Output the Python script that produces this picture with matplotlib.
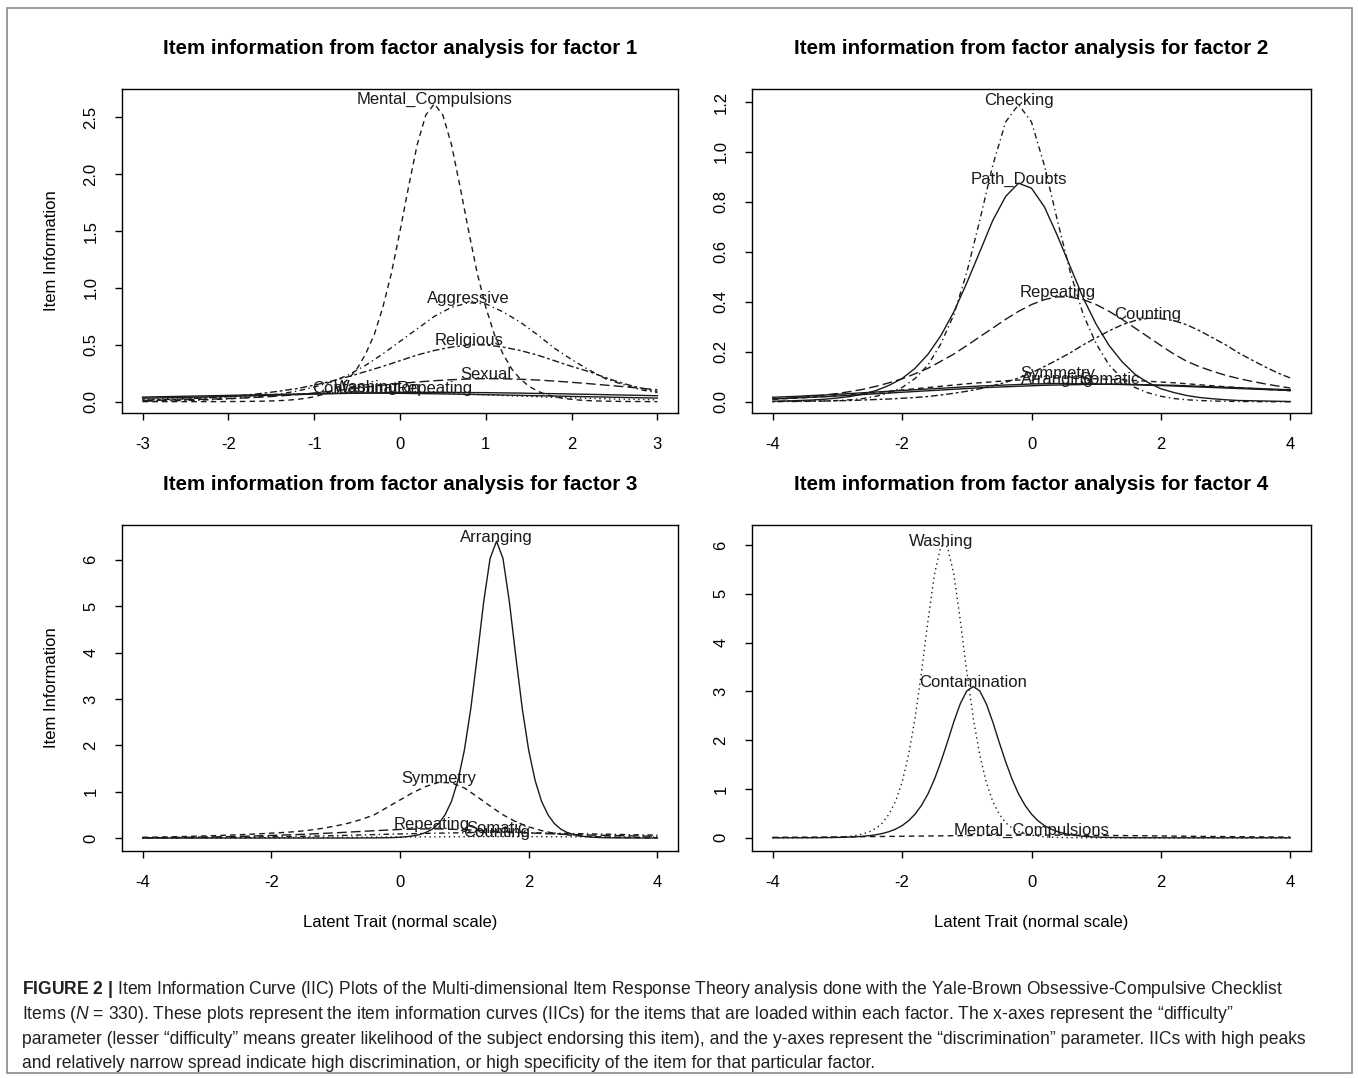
import numpy as np
import matplotlib
matplotlib.use('Agg')
import matplotlib.pyplot as plt
from matplotlib.patches import Rectangle

# latent trait grids the curves were read on
theta_f1 = np.linspace(-3, 3, 31)
theta_f1_fine = np.linspace(-3, 3, 61)
theta_f2 = np.linspace(-4, 4, 41)
theta_fine = np.linspace(-4, 4, 81)
theta_coarse = np.linspace(-4, 4, 17)

# ---- factor 1 ----
mental_compulsions_f1 = [
    0.000, 0.000, 0.000, 0.000, 0.000, 0.000, 0.000, 0.000, 0.000, 0.000,
    0.001, 0.001, 0.002, 0.003, 0.004, 0.006, 0.009, 0.013, 0.020, 0.029,
    0.043, 0.063, 0.093, 0.137, 0.200, 0.290, 0.420, 0.590, 0.830, 1.130,
    1.500, 1.890, 2.260, 2.520, 2.620, 2.520, 2.260, 1.890, 1.500, 1.130,
    0.830, 0.590, 0.420, 0.290, 0.200, 0.137, 0.093, 0.063, 0.043, 0.029,
    0.020, 0.013, 0.009, 0.006, 0.004, 0.003, 0.002, 0.001, 0.001, 0.000,
    0.000]
aggressive_f1 = [
    0.004, 0.006, 0.009, 0.012, 0.017, 0.024, 0.035, 0.049, 0.067, 0.093,
    0.128, 0.174, 0.235, 0.320, 0.420, 0.530, 0.640, 0.750, 0.830, 0.870,
    0.860, 0.790, 0.700, 0.590, 0.470, 0.370, 0.280, 0.200, 0.150, 0.105,
    0.080]
religious_f1 = [
    0.013, 0.017, 0.021, 0.028, 0.035, 0.045, 0.057, 0.073, 0.093, 0.115,
    0.145, 0.180, 0.220, 0.265, 0.310, 0.360, 0.410, 0.450, 0.480, 0.500,
    0.499, 0.480, 0.450, 0.410, 0.360, 0.310, 0.265, 0.210, 0.160, 0.120,
    0.090]
sexual_f1 = [
    0.010, 0.012, 0.015, 0.018, 0.022, 0.027, 0.033, 0.040, 0.050, 0.062,
    0.076, 0.092, 0.110, 0.128, 0.145, 0.160, 0.173, 0.184, 0.193, 0.199,
    0.202, 0.201, 0.197, 0.190, 0.181, 0.170, 0.158, 0.145, 0.132, 0.118,
    0.105]
repeating_f1 = [
    0.030, 0.033, 0.036, 0.039, 0.042, 0.046, 0.050, 0.054, 0.058, 0.062,
    0.066, 0.070, 0.073, 0.076, 0.078, 0.080, 0.081, 0.082, 0.081, 0.080,
    0.079, 0.077, 0.075, 0.072, 0.070, 0.067, 0.064, 0.061, 0.058, 0.055,
    0.052]
contamination_f1 = [
    0.040, 0.043, 0.046, 0.049, 0.052, 0.055, 0.058, 0.061, 0.064, 0.067,
    0.070, 0.072, 0.074, 0.075, 0.074, 0.073, 0.071, 0.069, 0.067, 0.064,
    0.061, 0.058, 0.055, 0.052, 0.049, 0.046, 0.043, 0.040, 0.037, 0.034,
    0.031]
washing_f1 = [
    0.020, 0.024, 0.028, 0.032, 0.037, 0.042, 0.048, 0.054, 0.060, 0.066,
    0.072, 0.078, 0.083, 0.086, 0.085, 0.083, 0.080, 0.076, 0.071, 0.066,
    0.060, 0.054, 0.048, 0.043, 0.038, 0.033, 0.029, 0.025, 0.022, 0.019,
    0.016]

# ---- factor 2 ----
checking_f2 = [
    0.000, 0.001, 0.001, 0.002, 0.003, 0.005, 0.008, 0.013, 0.022, 0.036,
    0.057, 0.093, 0.147, 0.232, 0.349, 0.518, 0.726, 0.945, 1.120, 1.190,
    1.120, 0.945, 0.726, 0.518, 0.349, 0.232, 0.147, 0.093, 0.057, 0.036,
    0.022, 0.013, 0.008, 0.005, 0.003, 0.002, 0.001, 0.001, 0.000, 0.000,
    0.000]
path_doubts_f2 = [
    0.002, 0.003, 0.005, 0.007, 0.010, 0.015, 0.021, 0.031, 0.045, 0.066,
    0.093, 0.134, 0.190, 0.265, 0.360, 0.476, 0.600, 0.725, 0.822, 0.875,
    0.855, 0.780, 0.665, 0.540, 0.415, 0.310, 0.225, 0.160, 0.110, 0.077,
    0.052, 0.037, 0.025, 0.017, 0.012, 0.008, 0.005, 0.004, 0.003, 0.002,
    0.001]
repeating_f2 = [
    0.011, 0.014, 0.017, 0.021, 0.027, 0.033, 0.041, 0.050, 0.062, 0.076,
    0.092, 0.112, 0.134, 0.162, 0.191, 0.225, 0.260, 0.295, 0.330, 0.362,
    0.389, 0.409, 0.420, 0.419, 0.409, 0.389, 0.362, 0.330, 0.295, 0.260,
    0.225, 0.191, 0.162, 0.140, 0.122, 0.106, 0.093, 0.082, 0.072, 0.063,
    0.055]
counting_f2 = [
    0.001, 0.002, 0.002, 0.003, 0.003, 0.004, 0.005, 0.007, 0.009, 0.011,
    0.014, 0.017, 0.021, 0.027, 0.034, 0.042, 0.052, 0.064, 0.078, 0.095,
    0.116, 0.141, 0.168, 0.196, 0.228, 0.256, 0.284, 0.308, 0.325, 0.334,
    0.333, 0.325, 0.308, 0.284, 0.256, 0.228, 0.196, 0.168, 0.141, 0.116,
    0.095]
symmetry_f2 = [
    0.010, 0.012, 0.015, 0.018, 0.021, 0.024, 0.028, 0.032, 0.037, 0.042,
    0.047, 0.052, 0.057, 0.062, 0.067, 0.072, 0.076, 0.080, 0.084, 0.087,
    0.090, 0.092, 0.095, 0.094, 0.093, 0.092, 0.090, 0.088, 0.085, 0.082,
    0.079, 0.076, 0.072, 0.068, 0.064, 0.060, 0.057, 0.053, 0.050, 0.047,
    0.044]
arranging_f2 = [
    0.018, 0.020, 0.022, 0.025, 0.027, 0.030, 0.033, 0.036, 0.039, 0.042,
    0.045, 0.048, 0.051, 0.054, 0.057, 0.060, 0.063, 0.065, 0.067, 0.069,
    0.071, 0.072, 0.073, 0.072, 0.072, 0.071, 0.070, 0.069, 0.068, 0.066,
    0.065, 0.063, 0.061, 0.059, 0.057, 0.055, 0.053, 0.051, 0.049, 0.047,
    0.045]
somatic_f2 = [
    0.012, 0.014, 0.016, 0.018, 0.020, 0.023, 0.026, 0.029, 0.032, 0.035,
    0.038, 0.041, 0.044, 0.047, 0.050, 0.053, 0.056, 0.058, 0.060, 0.062,
    0.064, 0.066, 0.067, 0.068, 0.069, 0.070, 0.071, 0.070, 0.069, 0.068,
    0.067, 0.066, 0.064, 0.062, 0.060, 0.058, 0.056, 0.054, 0.052, 0.050,
    0.048]

# ---- factor 3 ----
arranging_f3 = [
    0.000, 0.000, 0.000, 0.000, 0.000, 0.000, 0.000, 0.000, 0.000, 0.000,
    0.000, 0.000, 0.000, 0.000, 0.000, 0.000, 0.000, 0.000, 0.000, 0.000,
    0.000, 0.000, 0.000, 0.000, 0.000, 0.000, 0.000, 0.000, 0.000, 0.000,
    0.000, 0.000, 0.000, 0.000, 0.001, 0.002, 0.002, 0.004, 0.006, 0.010,
    0.017, 0.028, 0.045, 0.073, 0.118, 0.190, 0.310, 0.500, 0.790, 1.240,
    1.890, 2.790, 3.910, 5.090, 6.030, 6.400, 6.030, 5.090, 3.910, 2.790,
    1.890, 1.240, 0.790, 0.500, 0.310, 0.190, 0.118, 0.073, 0.045, 0.028,
    0.017, 0.010, 0.006, 0.004, 0.002, 0.002, 0.001, 0.001, 0.000, 0.000,
    0.000]
symmetry_f3 = [
    0.016, 0.020, 0.025, 0.031, 0.038, 0.046, 0.055, 0.065, 0.077, 0.090,
    0.105, 0.120, 0.140, 0.170, 0.210, 0.260, 0.320, 0.400, 0.500, 0.660,
    0.820, 0.980, 1.110, 1.200, 1.190, 1.080, 0.890, 0.690, 0.500, 0.350,
    0.240, 0.160, 0.100, 0.068, 0.045, 0.030, 0.020, 0.013, 0.009, 0.006,
    0.004]
repeating_f3 = [0.005, 0.010, 0.020, 0.035, 0.055, 0.080, 0.112, 0.150, 0.185,
                0.200, 0.180, 0.145, 0.110, 0.082, 0.062, 0.048, 0.038]
somatic_f3 = [0.005, 0.008, 0.012, 0.018, 0.026, 0.037, 0.052, 0.070, 0.088,
              0.103, 0.114, 0.120, 0.114, 0.102, 0.088, 0.074, 0.062]
counting_f3 = [0.001, 0.002, 0.003, 0.005, 0.007, 0.010, 0.014, 0.018, 0.022,
               0.026, 0.029, 0.031, 0.030, 0.028, 0.025, 0.022, 0.020]

# ---- factor 4 ----
washing_f4 = [
    0.000, 0.000, 0.000, 0.000, 0.001, 0.001, 0.002, 0.003, 0.005, 0.008,
    0.013, 0.021, 0.033, 0.052, 0.082, 0.128, 0.200, 0.310, 0.490, 0.750,
    1.140, 1.700, 2.450, 3.400, 4.450, 5.400, 5.980, 5.970, 5.400, 4.450,
    3.400, 2.450, 1.700, 1.140, 0.750, 0.490, 0.310, 0.200, 0.128, 0.082,
    0.052, 0.033, 0.021, 0.013, 0.008, 0.005, 0.003, 0.002, 0.001, 0.001,
    0.000, 0.000, 0.000, 0.000, 0.000, 0.000, 0.000, 0.000, 0.000, 0.000,
    0.000, 0.000, 0.000, 0.000, 0.000, 0.000, 0.000, 0.000, 0.000, 0.000,
    0.000, 0.000, 0.000, 0.000, 0.000, 0.000, 0.000, 0.000, 0.000, 0.000,
    0.000]
contamination_f4 = [
    0.000, 0.000, 0.001, 0.001, 0.001, 0.002, 0.002, 0.003, 0.004, 0.006,
    0.008, 0.011, 0.016, 0.022, 0.032, 0.045, 0.064, 0.090, 0.127, 0.179,
    0.250, 0.350, 0.485, 0.666, 0.900, 1.200, 1.560, 1.960, 2.380, 2.750,
    3.010, 3.100, 3.010, 2.750, 2.380, 1.960, 1.560, 1.200, 0.900, 0.666,
    0.485, 0.350, 0.250, 0.179, 0.127, 0.090, 0.064, 0.045, 0.032, 0.022,
    0.016, 0.011, 0.008, 0.006, 0.004, 0.003, 0.002, 0.002, 0.001, 0.001,
    0.001, 0.000, 0.000, 0.000, 0.000, 0.000, 0.000, 0.000, 0.000, 0.000,
    0.000, 0.000, 0.000, 0.000, 0.000, 0.000, 0.000, 0.000, 0.000, 0.000,
    0.000]
mental_compulsions_f4 = [0.010, 0.014, 0.019, 0.025, 0.032, 0.039, 0.046, 0.052,
                         0.056, 0.055, 0.051, 0.045, 0.038, 0.031, 0.025, 0.020, 0.015]

# R line types
LTY = {
    'solid': '-',
    'dashed': (0, (4, 3)),
    'dotted': (0, (1, 2.5)),
    'dotdash': (0, (1, 2.5, 4, 2.5)),
    'longdash': (0, (7, 3)),
    'twodash': (0, (2, 2, 5, 2)),
}

CAPTION = [
    r"$\mathbf{FIGURE\ 2\ |}$ Item Information Curve (IIC) Plots of the Multi-dimensional Item Response Theory analysis done with the Yale-Brown Obsessive-Compulsive Checklist",
    r"Items ($\mathit{N}$ = 330). These plots represent the item information curves (IICs) for the items that are loaded within each factor. The x-axes represent the “difficulty”",
    "parameter (lesser “difficulty” means greater likelihood of the subject endorsing this item), and the y-axes represent the “discrimination” parameter. IICs with high peaks",
    "and relatively narrow spread indicate high discrimination, or high specificity of the item for that particular factor.",
]

W, H = 1358, 1078


def fx(px):
    return px / W


def fy(py):
    return 1 - py / H


def draw_panel(ax, curves, xlim, ylim, xticks, yticks, yfmt):
    for name, theta, info, lty in curves:
        info = np.asarray(info)
        ax.plot(theta, info, color='#1a1a1a', lw=1.0, linestyle=LTY[lty])
        k = int(np.argmax(info))
        ax.annotate(name, (theta[k], info[k]), xytext=(0, 3), textcoords='offset points',
                    ha='center', va='center', fontsize=12, color='#1a1a1a')
    ax.set_xlim(xlim)
    ax.set_ylim(ylim)
    ax.set_xticks(xticks)
    ax.set_xticklabels([str(int(t)) for t in xticks])
    ax.set_yticks(yticks)
    ax.set_yticklabels([yfmt.format(t) for t in yticks])
    ax.tick_params(direction='out', length=5, width=1, labelsize=12, pad=12)
    for lab in ax.get_yticklabels():
        lab.set_rotation(90)
        lab.set_va('center')
    for sp in ax.spines.values():
        sp.set_linewidth(1.0)


def main():
    plt.rcParams['font.family'] = ['Liberation Sans', 'DejaVu Sans']
    plt.rcParams['mathtext.fontset'] = 'custom'
    plt.rcParams['mathtext.rm'] = 'Liberation Sans'
    plt.rcParams['mathtext.it'] = 'Liberation Sans:italic'
    plt.rcParams['mathtext.bf'] = 'Liberation Sans:bold'
    fig = plt.figure(figsize=(W / 100, H / 100), dpi=100)

    top_b, top_h = fy(413), (413 - 89) / H
    bot_b, bot_h = fy(851), (851 - 525) / H
    lx, lw_ = fx(122), (678 - 122) / W
    rx, rw = fx(752), (1311 - 752) / W

    ax1 = fig.add_axes([lx, top_b, lw_, top_h])
    ax2 = fig.add_axes([rx, top_b, rw, top_h])
    ax3 = fig.add_axes([lx, bot_b, lw_, bot_h])
    ax4 = fig.add_axes([rx, bot_b, rw, bot_h])

    draw_panel(ax1, [
        ('Mental_Compulsions', theta_f1_fine, mental_compulsions_f1, 'dashed'),
        ('Aggressive', theta_f1, aggressive_f1, 'dotdash'),
        ('Religious', theta_f1, religious_f1, 'twodash'),
        ('Sexual', theta_f1, sexual_f1, 'longdash'),
        ('Contamination', theta_f1, contamination_f1, 'solid'),
        ('Washing', theta_f1, washing_f1, 'dotted'),
        ('Repeating', theta_f1, repeating_f1, 'solid'),
    ], (-3.24, 3.24), (-0.10, 2.75), [-3, -2, -1, 0, 1, 2, 3],
        [0, 0.5, 1.0, 1.5, 2.0, 2.5], '{:.1f}')

    draw_panel(ax2, [
        ('Checking', theta_f2, checking_f2, 'dotdash'),
        ('Path_Doubts', theta_f2, path_doubts_f2, 'solid'),
        ('Repeating', theta_f2, repeating_f2, 'longdash'),
        ('Counting', theta_f2, counting_f2, 'twodash'),
        ('Symmetry', theta_f2, symmetry_f2, 'dashed'),
        ('Arranging', theta_f2, arranging_f2, 'solid'),
        ('Somatic', theta_f2, somatic_f2, 'solid'),
    ], (-4.32, 4.32), (-0.045, 1.252), [-4, -2, 0, 2, 4],
        [0, 0.2, 0.4, 0.6, 0.8, 1.0, 1.2], '{:.1f}')

    draw_panel(ax3, [
        ('Arranging', theta_fine, arranging_f3, 'solid'),
        ('Symmetry', theta_f2, symmetry_f3, 'dashed'),
        ('Repeating', theta_coarse, repeating_f3, 'longdash'),
        ('Somatic', theta_coarse, somatic_f3, 'dotdash'),
        ('Counting', theta_coarse, counting_f3, 'dotted'),
    ], (-4.32, 4.32), (-0.28, 6.75), [-4, -2, 0, 2, 4],
        [0, 1, 2, 3, 4, 5, 6], '{:.0f}')

    draw_panel(ax4, [
        ('Washing', theta_fine, washing_f4, 'dotted'),
        ('Contamination', theta_fine, contamination_f4, 'solid'),
        ('Mental_Compulsions', theta_coarse, mental_compulsions_f4, 'dashed'),
    ], (-4.32, 4.32), (-0.27, 6.41), [-4, -2, 0, 2, 4],
        [0, 1, 2, 3, 4, 5, 6], '{:.0f}')

    tkw = dict(ha='center', va='center', fontsize=14.8, fontweight='bold')
    fig.text(fx(400), fy(48), 'Item information from factor analysis for factor 1', **tkw)
    fig.text(fx(1031), fy(48), 'Item information from factor analysis for factor 2', **tkw)
    fig.text(fx(400), fy(485), 'Item information from factor analysis for factor 3', **tkw)
    fig.text(fx(1031), fy(485), 'Item information from factor analysis for factor 4', **tkw)

    fig.text(fx(52), fy(251), 'Item Information', rotation=90, ha='center', va='center', fontsize=12)
    fig.text(fx(52), fy(688), 'Item Information', rotation=90, ha='center', va='center', fontsize=12)
    fig.text(fx(400), fy(922), 'Latent Trait (normal scale)', ha='center', va='center', fontsize=12)
    fig.text(fx(1031), fy(922), 'Latent Trait (normal scale)', ha='center', va='center', fontsize=12)

    # caption: fit the first line to the width it takes in the reference
    renderer = fig.canvas.get_renderer()
    size = 14.0
    lines = []
    for i, line in enumerate(CAPTION):
        lines.append(fig.text(fx(22), fy(990 + i * 24.5), line, ha='left', va='center',
                              fontsize=size, color='#231f20'))
    width = lines[0].get_window_extent(renderer).width
    size = size * (1290 - 22) / width
    for t in lines:
        t.set_fontsize(size)

    fig.add_artist(Rectangle((fx(7), fy(1073)), (1352 - 7) / W, (1073 - 8) / H,
                             transform=fig.transFigure, fill=False, ec='#8a8a8a', lw=1.2))

    fig.savefig('out.png', dpi=100)


if __name__ == '__main__':
    main()
